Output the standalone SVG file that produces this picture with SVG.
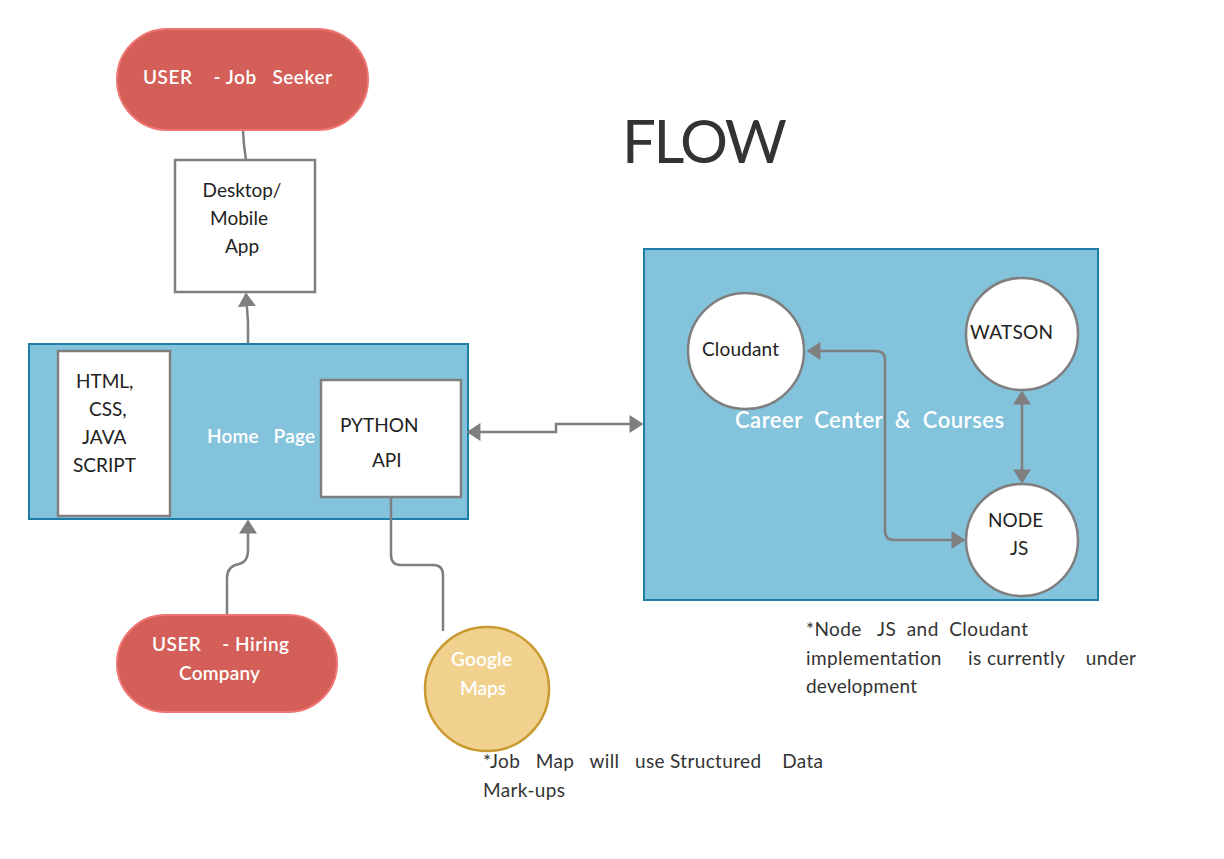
<svg xmlns="http://www.w3.org/2000/svg" width="1224" height="859" viewBox="0 0 1224 859">
<style>
text{font-family:Lato,"Open Sans","Liberation Sans",sans-serif;white-space:pre}
.dk{fill:#222;font-size:19px}
.wt{fill:#fff;font-size:19px;font-weight:600}
.box{fill:#fff;stroke:#7f7f7f;stroke-width:2.5}
.pill{fill:#d35f58;stroke:#f07572;stroke-width:2}
.cont{fill:#84c3dc;stroke:#1d7ea8;stroke-width:2}
.ln{fill:none;stroke:#7f7f7f;stroke-width:2.5}
.note{fill:#333;font-size:19px}
</style>
<defs>
<marker id="ah" viewBox="0 0 10 13" refX="9" refY="6.5" markerWidth="5.6" markerHeight="7.2" orient="auto-start-reverse" markerUnits="strokeWidth">
<path d="M0,0 L10,6.5 L0,13 z" fill="#7f7f7f"/>
</marker>
</defs>
<rect width="1224" height="859" fill="#fff"/>
<text x="622" y="163" textLength="165" style="font-size:60px;font-weight:400;fill:#333">FLOW</text>

<g id="home-page">
<rect class="cont" x="29" y="344" width="439" height="175"/>
<text class="wt" x="207" y="443" textLength="108">Home   Page</text>
</g>
<g id="career-center">
<rect class="cont" x="644" y="249" width="454" height="351"/>
<text class="wt" x="735" y="428" textLength="269" style="font-size:22px">Career  Center  &amp;  Courses</text>
</g>

<g id="connectors">
<path class="ln" d="M243,131 L244,145 L246,160"/>
<path class="ln" d="M248,343 L248,322 L246,294" marker-end="url(#ah)"/>
<path class="ln" d="M227,614 L227,578 Q227,566 239,564 Q248,562 248,550 L248,521" marker-end="url(#ah)"/>
<path class="ln" d="M391,498 L391,555 Q391,565 401,565 L433,565 Q443,565 443,575 L443,631"/>
<path class="ln" d="M468,432 L556,432 L556,424 L642,424" marker-start="url(#ah)" marker-end="url(#ah)"/>
<path class="ln" d="M808,351 L876,351 Q885,351 885,360 L885,531 Q885,540 894,540 L964,540" marker-start="url(#ah)" marker-end="url(#ah)"/>
<path class="ln" d="M1022,392 L1022,482" marker-start="url(#ah)" marker-end="url(#ah)"/>
</g>

<g id="user-job-seeker">
<rect class="pill" x="117" y="29" width="251" height="101" rx="50.5"/>
<text class="wt" x="143" y="84" textLength="189">USER    - Job   Seeker</text>
</g>
<g id="desktop-app">
<rect class="box" x="175" y="160" width="140" height="132"/>
<text class="dk" x="242" y="197" text-anchor="middle">Desktop/</text>
<text class="dk" x="239" y="225" text-anchor="middle">Mobile</text>
<text class="dk" x="242" y="253" text-anchor="middle">App</text>
</g>
<g id="html-css-js">
<rect class="box" x="58" y="351" width="112" height="165"/>
<text class="dk" x="76" y="388">HTML,</text>
<text class="dk" x="89" y="416">CSS,</text>
<text class="dk" x="82" y="444">JAVA</text>
<text class="dk" x="73" y="472">SCRIPT</text>
</g>
<g id="python-api">
<rect class="box" x="321" y="380" width="140" height="117"/>
<text class="dk" x="340" y="432">PYTHON</text>
<text class="dk" x="372" y="467">API</text>
</g>
<g id="user-hiring">
<rect class="pill" x="117" y="615" width="220" height="97" rx="48.5"/>
<text class="wt" x="152" y="651" textLength="137">USER    - Hiring</text>
<text class="wt" x="179" y="680" textLength="81">Company</text>
</g>
<g id="google-maps">
<circle cx="487" cy="689" r="62" fill="#f0d18e" stroke="#c89a30" stroke-width="2.5"/>
<text class="wt" x="451" y="666" textLength="61">Google</text>
<text class="wt" x="460" y="695" textLength="46">Maps</text>
</g>
<g id="cloudant">
<circle class="box" cx="746" cy="351" r="58"/>
<text class="dk" x="702" y="356" textLength="77">Cloudant</text>
</g>
<g id="watson">
<circle class="box" cx="1022" cy="334" r="56"/>
<text class="dk" x="970" y="339" textLength="83">WATSON</text>
</g>
<g id="node-js">
<circle class="box" cx="1022" cy="540" r="56"/>
<text class="dk" x="988" y="527">NODE</text>
<text class="dk" x="1010" y="555">JS</text>
</g>

<g id="notes">
<text class="note" x="806" y="636" textLength="222">*Node   JS  and  Cloudant</text>
<text class="note" x="806" y="665" textLength="330">implementation     is currently    under</text>
<text class="note" x="806" y="693" textLength="111">development</text>
<text class="note" x="483" y="768" textLength="340">*Job   Map   will   use Structured    Data</text>
<text class="note" x="483" y="797" textLength="82">Mark-ups</text>
</g>
</svg>
